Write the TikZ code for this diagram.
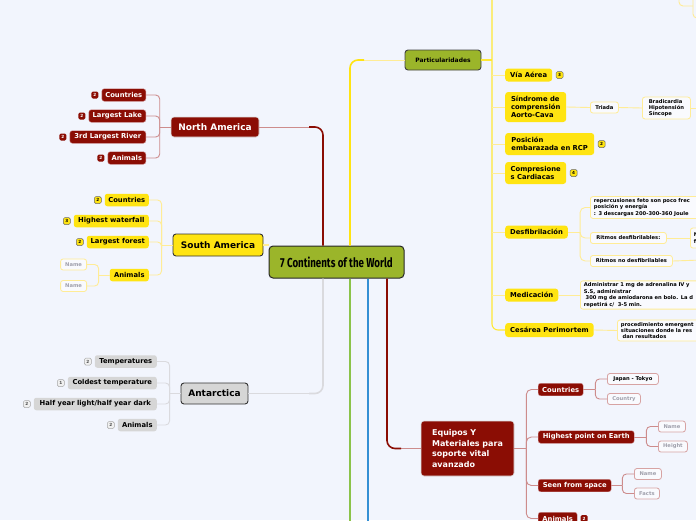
\documentclass[tikz,border=0pt]{standalone}
\usepackage{fontspec}
\setmainfont{DejaVu Sans}
\newfontfamily\titlefont[FakeStretch=0.75]{Fira Sans}
\usetikzlibrary{positioning,calc}

\definecolor{bgblue}{RGB}{242,245,253}
\definecolor{hubgreen}{RGB}{155,181,42}
\definecolor{nared}{RGB}{139,13,4}
\definecolor{palered}{RGB}{205,140,140}
\definecolor{sunyellow}{RGB}{255,228,18}
\definecolor{paleyellow}{RGB}{255,236,150}
\definecolor{antgray}{RGB}{214,214,214}
\definecolor{linegray}{RGB}{218,218,222}
\definecolor{leafgreen}{RGB}{139,195,74}
\definecolor{skyblue}{RGB}{52,143,212}
\definecolor{hintgray}{RGB}{160,160,172}

\begin{document}
\begin{tikzpicture}[x=1pt, y=-1pt,
    hub/.style={draw=black!85, line width=1pt, rounded corners=4pt, fill=hubgreen, minimum width=135pt, minimum height=32pt, inner sep=0pt, font=\titlefont\bfseries\fontsize{13}{15}\selectfont},
    redmain/.style={fill=nared, draw=white!75!gray, line width=0.6pt, rounded corners=3pt, inner sep=0pt, text=white, font=\bfseries\fontsize{9}{11}\selectfont},
    yelmain/.style={fill=sunyellow, draw=black!80, line width=0.9pt, rounded corners=3pt, inner sep=0pt, font=\bfseries\fontsize{9}{11}\selectfont},
    graymain/.style={fill=antgray, draw=black!80, line width=0.9pt, rounded corners=3pt, inner sep=0pt, font=\bfseries\fontsize{9}{11}\selectfont},
    greenmain/.style={fill=hubgreen, draw=black!75, line width=0.9pt, rounded corners=3pt, inner sep=0pt, font=\bfseries\fontsize{6}{7}\selectfont},
    kid/.style={rounded corners=2.5pt, inner xsep=3pt, inner ysep=0pt, minimum height=12.5pt, font=\bfseries\fontsize{6.8}{8}\selectfont},
    redkid/.style={kid, fill=nared, draw=palered, line width=0.4pt, text=white},
    yelkid/.style={kid, fill=sunyellow},
    graykid/.style={kid, fill=antgray},
    ynode/.style={fill=sunyellow, rounded corners=3pt, inner xsep=5pt, inner ysep=2pt, minimum height=13pt, align=left, font=\bfseries\fontsize{6.8}{8.3}\selectfont},
    leaf/.style={rounded corners=2.5pt, fill=white!55!bgblue, line width=0.8pt, inner xsep=3.5pt, inner ysep=2pt, minimum height=11pt, align=left, font=\bfseries\fontsize{5.2}{6.4}\selectfont},
    yleaf/.style={leaf, draw=paleyellow},
    rleaf/.style={leaf, draw=palered!80},
    badge/.style={rounded corners=1.5pt, minimum size=7pt, inner sep=0pt, line width=0.5pt, font=\bfseries\fontsize{4.2}{4.2}\selectfont},
    rbadge/.style={badge, fill=nared, text=white},
    ybadge/.style={badge, fill=sunyellow, draw=black!60},
    gbadge/.style={badge, fill=gray!12, draw=gray!70, text=black!70},
    trunk/.style={line width=1.6pt},
    nabranch/.style={palered, line width=0.9pt},
    ybranch/.style={paleyellow, line width=0.9pt},
    ytrunk/.style={sunyellow!85!white, line width=1.1pt},
    gbranch/.style={linegray, line width=0.9pt}
]
\useasboundingbox (0,0) rectangle (696,520);
\fill[bgblue] (0,0) rectangle (696,520);
\clip (0,0) rectangle (696,520);

% centre and main topics
\node[hub] (world) at (336.5,262) {7 Continents of the World};
\node[redmain, minimum width=88pt, minimum height=20pt] (nam) at (215,127) {North America};
\node[yelmain, minimum width=90pt, minimum height=22pt] (sam) at (218,245) {South America};
\node[graymain, minimum width=67pt, minimum height=21pt] (ant) at (214.5,393.5) {Antarctica};
\node[greenmain, minimum width=76pt, minimum height=20pt] (par) at (443,60) {Particularidades};
\node[redmain, align=left, inner xsep=7pt, minimum width=93pt, minimum height=55pt, font=\bfseries\fontsize{8}{10.5}\selectfont] (equ) at (467.5,448.5) {Equipos Y\\Materiales para\\soporte vital\\avanzado};

% trunks
\coordinate (naknee) at (323,127);
\coordinate (antknee) at (323,393.5);
\coordinate (parknee) at (350,60);
\coordinate (equknee) at (387,448.5);
\coordinate (greenend) at (350,525);
\coordinate (blueend) at (368,525);
\draw[nabranch] (nam.east) -- ++(52,0);
\draw[trunk, nared, rounded corners=8pt] ([xshift=-13.5pt]world.north) -- (naknee) -- ++(-14,0);
\draw[gbranch] (ant.east) -- ++(62,0);
\draw[trunk, linegray, rounded corners=8pt] ([xshift=-13.5pt]world.south) -- (antknee) -- ++(-14,0);
\draw[ybranch] (par.west) -- ++(-42,0);
\draw[trunk, sunyellow, rounded corners=8pt] ([xshift=13.5pt]world.north) -- (parknee) -- ++(14,0);
\draw[nabranch] (equ.west) -- ++(-20,0);
\draw[trunk, nared, rounded corners=8pt] ([xshift=50.5pt]world.south) -- (equknee) -- ++(14,0);
\draw[trunk, leafgreen] ([xshift=13.5pt]world.south) -- (greenend);
\draw[trunk, skyblue] ([xshift=31.5pt]world.south) -- (blueend);
\draw[ybranch, line width=1.2pt] (sam.east) -- (sam.east -| world.west);

% North America
\node[redkid, anchor=east, minimum width=44pt] (na1) at (146,95) {Countries};
\node[redkid, anchor=east, minimum width=57pt] (na2) at (146,116) {Largest Lake};
\node[redkid, anchor=east, minimum width=76pt] (na3) at (146,137) {3rd Largest River};
\node[redkid, anchor=east, minimum width=38pt] (na4) at (146,158) {Animals};
\node[rbadge, left=3pt of na1] (na1b) {2};
\node[rbadge, left=3pt of na2] (na2b) {2};
\node[rbadge, left=3pt of na3] (na3b) {2};
\node[rbadge, left=3pt of na4] (na4b) {2};
\draw[nabranch] (nam.west) -- ++(-11,0) coordinate (naj);
\draw[nabranch, rounded corners=4pt] (naj) |- (na1.east);
\draw[nabranch, rounded corners=4pt] (naj) |- (na2.east);
\draw[nabranch, rounded corners=4pt] (naj) |- (na3.east);
\draw[nabranch, rounded corners=4pt] (naj) |- (na4.east);

% South America
\node[yelkid, anchor=east, minimum width=44pt] (sa1) at (149,200) {Countries};
\node[yelkid, anchor=east, minimum width=75pt] (sa2) at (149,221) {Highest waterfall};
\node[yelkid, anchor=east, minimum width=62pt] (sa3) at (149,242) {Largest forest};
\node[yelkid, anchor=east, minimum width=39pt] (sa4) at (149,275) {Animals};
\node[ybadge, left=3pt of sa1] (sa1b) {2};
\node[ybadge, left=3pt of sa2] (sa2b) {3};
\node[ybadge, left=3pt of sa3] (sa3b) {2};
\node[yleaf, anchor=east, minimum width=26pt, text=hintgray] (sa4a) at (87,264.5) {Name};
\node[yleaf, anchor=east, minimum width=26pt, text=hintgray] (sa4b) at (87,286) {Name};
\draw[ybranch] (sam.west) -- ++(-11,0) coordinate (saj);
\draw[ybranch, rounded corners=4pt] (saj) |- (sa1.east);
\draw[ybranch, rounded corners=4pt] (saj) |- (sa2.east);
\draw[ybranch, rounded corners=4pt] (saj) |- (sa3.east);
\draw[ybranch, rounded corners=4pt] (saj) |- (sa4.east);
\draw[ybranch] (sa4.west) -- ++(-11,0) coordinate (sa4j);
\draw[ybranch, rounded corners=4pt] (sa4j) |- (sa4a.east);
\draw[ybranch, rounded corners=4pt] (sa4j) |- (sa4b.east);

% Antarctica
\node[graykid, anchor=east, minimum width=62pt] (an1) at (157,361.5) {Temperatures};
\node[graykid, anchor=east, minimum width=89pt] (an2) at (157,383) {Coldest temperature};
\node[graykid, anchor=east, minimum width=123pt] (an3) at (157,404) {Half year light/half year dark};
\node[graykid, anchor=east, minimum width=39pt] (an4) at (157,425) {Animals};
\node[gbadge, left=3pt of an1] (an1b) {2};
\node[gbadge, left=3pt of an2] (an2b) {1};
\node[gbadge, left=3pt of an3] (an3b) {2};
\node[gbadge, left=3pt of an4] (an4b) {2};
\draw[gbranch] (ant.west) -- ++(-11,0) coordinate (antj);
\draw[gbranch, rounded corners=4pt] (antj) |- (an1.east);
\draw[gbranch, rounded corners=4pt] (antj) |- (an2.east);
\draw[gbranch, rounded corners=4pt] (antj) |- (an3.east);
\draw[gbranch, rounded corners=4pt] (antj) |- (an4.east);

% Particularidades
\node[ynode, anchor=west, minimum width=44pt] (p1) at (505,75) {Vía Aérea};
\node[ynode, anchor=west, minimum width=61pt, minimum height=30pt] (p2) at (505,107) {Síndrome de\\comprensión\\Aorto-Cava};
\node[ynode, anchor=west, minimum width=89pt, minimum height=22pt] (p3) at (505,144) {Posición\\embarazada en RCP};
\node[ynode, anchor=west, minimum width=61pt, minimum height=22pt] (p4) at (505,173) {Compresione\\s Cardiacas};
\node[ynode, anchor=west, minimum width=61pt] (p5) at (505,232) {Desfibrilación};
\node[ynode, anchor=west, minimum width=51pt] (p6) at (505,295) {Medicación};
\node[ynode, anchor=west, minimum width=87pt, minimum height=14pt] (p7) at (505,330) {Cesárea Perimortem};
\node[ybadge, right=3.5pt of p1] (p1b) {3};
\node[ybadge, right=3.5pt of p3] (p3b) {2};
\node[ybadge, right=3.5pt of p4] (p4b) {4};
\coordinate (ptop) at (492,-5);
\draw[ytrunk] (par.east) -- (par.east -| ptop);
\draw[ytrunk, rounded corners=6pt] (ptop) |- (p7.west);
\draw[ybranch] (ptop |- p1.west) -- (p1.west);
\draw[ybranch] (ptop |- p2.west) -- (p2.west);
\draw[ybranch] (ptop |- p3.west) -- (p3.west);
\draw[ybranch] (ptop |- p4.west) -- (p4.west);
\draw[ybranch] (ptop |- p5.west) -- (p5.west);
\draw[ybranch] (ptop |- p6.west) -- (p6.west);

% hidden branches at the top edge
\coordinate (hid1) at (679,-5);
\coordinate (hid2) at (693,-5);
\coordinate (hidj) at (693,6);
\coordinate (hid3) at (702,18);
\draw[ybranch, rounded corners=4pt] (hid1) |- (hidj);
\draw[ybranch, rounded corners=4pt] (hid2) |- (hid3);

% triada
\node[yleaf, anchor=west, minimum width=28pt] (tri) at (590,107.5) {Triada};
\node[yleaf, anchor=west, minimum width=48pt] (brad) at (642,108) {Bradicardia\\Hipotensión\\Síncope};
\coordinate (bradout) at (702,108);
\draw[ybranch] (p2.east) -- (tri.west);
\draw[ybranch] (tri.east) -- (brad.west);
\draw[ybranch] (brad.east) -- (bradout);

% desfibrilacion
\node[yleaf, anchor=west, text width=140pt] (d1) at (590,207.5) {repercusiones feto son poco frec\\posición y energía\\: 3 descargas 200-300-360 Joule};
\node[yleaf, anchor=west, minimum width=76pt] (d2) at (590,238) {Ritmos desfibrilables:};
\node[yleaf, anchor=west, text width=25pt, minimum height=20pt] (d2b) at (690,238) {N\\f};
\node[yleaf, anchor=west, minimum width=82pt] (d3) at (590,261) {Ritmos no desfibrilables};
\coordinate (d3out) at (702,260);
\draw[ybranch] (p5.east) -- ++(12,0) coordinate (dj);
\draw[ybranch, rounded corners=5pt] (dj) |- (d1.west);
\draw[ybranch, rounded corners=5pt] (dj) |- (d2.west);
\draw[ybranch, rounded corners=5pt] (dj) |- (d3.west);
\draw[ybranch] (d2.east) -- (d2b.west);
\draw[ybranch] (d3.east) -- (d3out);

% medicacion, cesarea
\node[yleaf, anchor=west, text width=140pt] (m1) at (580,295) {Administrar 1 mg de adrenalina IV y\\S.S, administrar\\\ 300 mg de amiodarona en bolo. La d\\repetirá c/ \ 3-5 min.};
\node[yleaf, anchor=west, text width=100pt] (c1) at (617,330.5) {procedimiento emergent\\situaciones donde la res\\\ dan resultados};
\draw[ybranch] (p6.east) -- (m1.west);
\draw[ybranch] (p7.east) -- (c1.west);

% Equipos
\node[redkid, anchor=west, minimum width=45pt] (e1) at (538,389.5) {Countries};
\node[redkid, anchor=west, minimum width=96pt] (e2) at (538,437) {Highest point on Earth};
\node[redkid, anchor=west, minimum width=73pt] (e3) at (538,485.5) {Seen from space};
\node[redkid, anchor=west, minimum width=39pt] (e4) at (538,518.5) {Animals};
\node[rbadge, right=3pt of e4] (e4b) {2};
\node[rleaf, anchor=west, minimum width=51pt] (e1a) at (607,379) {Japan - Tokyo};
\node[rleaf, anchor=west, minimum width=33pt, text=hintgray] (e1b) at (607,399) {Country};
\node[rleaf, anchor=west, minimum width=27pt, text=hintgray] (e2a) at (658,426.5) {Name};
\node[rleaf, anchor=west, minimum width=29pt, text=hintgray] (e2b) at (658,446.5) {Height};
\node[rleaf, anchor=west, minimum width=27pt, text=hintgray] (e3a) at (634,474) {Name};
\node[rleaf, anchor=west, minimum width=25pt, text=hintgray] (e3b) at (634,493.5) {Facts};
\draw[nabranch] (equ.east) -- ++(12,0) coordinate (ej);
\draw[nabranch, rounded corners=5pt] (ej) |- (e1.west);
\draw[nabranch, rounded corners=5pt] (ej) |- (e2.west);
\draw[nabranch, rounded corners=5pt] (ej) |- (e3.west);
\draw[nabranch, rounded corners=5pt] (ej) |- (e4.west);
\draw[nabranch] (e1.east) -- ++(12,0) coordinate (e1j);
\draw[nabranch, rounded corners=4pt] (e1j) |- (e1a.west);
\draw[nabranch, rounded corners=4pt] (e1j) |- (e1b.west);
\draw[nabranch] (e2.east) -- ++(12,0) coordinate (e2j);
\draw[nabranch, rounded corners=4pt] (e2j) |- (e2a.west);
\draw[nabranch, rounded corners=4pt] (e2j) |- (e2b.west);
\draw[nabranch] (e3.east) -- ++(11,0) coordinate (e3j);
\draw[nabranch, rounded corners=4pt] (e3j) |- (e3a.west);
\draw[nabranch, rounded corners=4pt] (e3j) |- (e3b.west);
\end{tikzpicture}
\end{document}
